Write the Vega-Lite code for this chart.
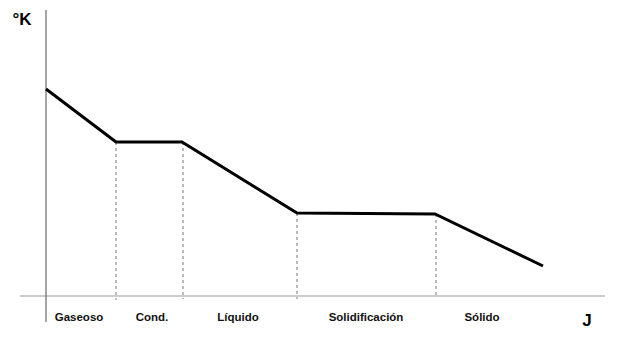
{
  "$schema": "https://vega.github.io/schema/vega-lite/v6.json",
  "width": 624,
  "height": 347,
  "autosize": {"type": "fit", "contains": "padding"},
  "padding": 0,
  "background": "white",
  "config": {"view": {"stroke": null}},
  "datasets": {
    "curve": [
      {"j": 0, "k": 207},
      {"j": 70, "k": 154},
      {"j": 136, "k": 154},
      {"j": 251, "k": 83},
      {"j": 389, "k": 82},
      {"j": 497, "k": 30}
    ],
    "drops": [
      {"j": 70, "k": 154, "k2": -4},
      {"j": 137, "k": 154, "k2": -3},
      {"j": 251, "k": 83, "k2": -3},
      {"j": 390, "k": 82, "k2": -1}
    ],
    "phases": [
      {"phase": "Gaseoso", "j": 33},
      {"phase": "Cond.", "j": 106},
      {"phase": "Líquido", "j": 192},
      {"phase": "Solidificación", "j": 320},
      {"phase": "Sólido", "j": 436}
    ],
    "titles": [
      {"t": "°K", "j": -24, "k": 276},
      {"t": "J", "j": 541, "k": -25}
    ]
  },
  "layer": [
    {
      "data": {"values": [{"j": -26, "j2": 559, "k": 0}]},
      "mark": {"type": "rule", "color": "#9a9a9a", "strokeWidth": 1.2},
      "encoding": {
        "x": {"field": "j", "type": "quantitative", "scale": {"domain": [-46, 578], "nice": false, "zero": false}, "axis": null},
        "x2": {"field": "j2"},
        "y": {"field": "k", "type": "quantitative", "scale": {"domain": [-51, 296], "nice": false, "zero": false}, "axis": null}
      }
    },
    {
      "data": {"values": [{"j": 0, "k": 286, "k2": -26}]},
      "mark": {"type": "rule", "color": "#6a6a6a", "strokeWidth": 1.2},
      "encoding": {
        "x": {"field": "j", "type": "quantitative"},
        "y": {"field": "k", "type": "quantitative"},
        "y2": {"field": "k2"}
      }
    },
    {
      "data": {"name": "drops"},
      "mark": {"type": "rule", "color": "#777777", "strokeWidth": 1, "strokeDash": [3, 3]},
      "encoding": {
        "x": {"field": "j", "type": "quantitative"},
        "y": {"field": "k", "type": "quantitative"},
        "y2": {"field": "k2"}
      }
    },
    {
      "data": {"name": "curve"},
      "mark": {"type": "line", "color": "#000000", "strokeWidth": 3},
      "encoding": {
        "x": {"field": "j", "type": "quantitative"},
        "y": {"field": "k", "type": "quantitative"}
      }
    },
    {
      "data": {"name": "phases"},
      "mark": {"type": "text", "font": "Liberation Sans", "fontWeight": "bold", "fontSize": 11.5, "color": "#111111", "align": "center", "baseline": "middle"},
      "encoding": {
        "x": {"field": "j", "type": "quantitative"},
        "y": {"datum": -22, "type": "quantitative"},
        "text": {"field": "phase"}
      }
    },
    {
      "data": {"name": "titles"},
      "mark": {"type": "text", "font": "Liberation Sans", "fontWeight": "bold", "fontSize": 17, "color": "#000000", "align": "center", "baseline": "middle"},
      "encoding": {
        "x": {"field": "j", "type": "quantitative"},
        "y": {"field": "k", "type": "quantitative"},
        "text": {"field": "t"}
      }
    }
  ]
}
